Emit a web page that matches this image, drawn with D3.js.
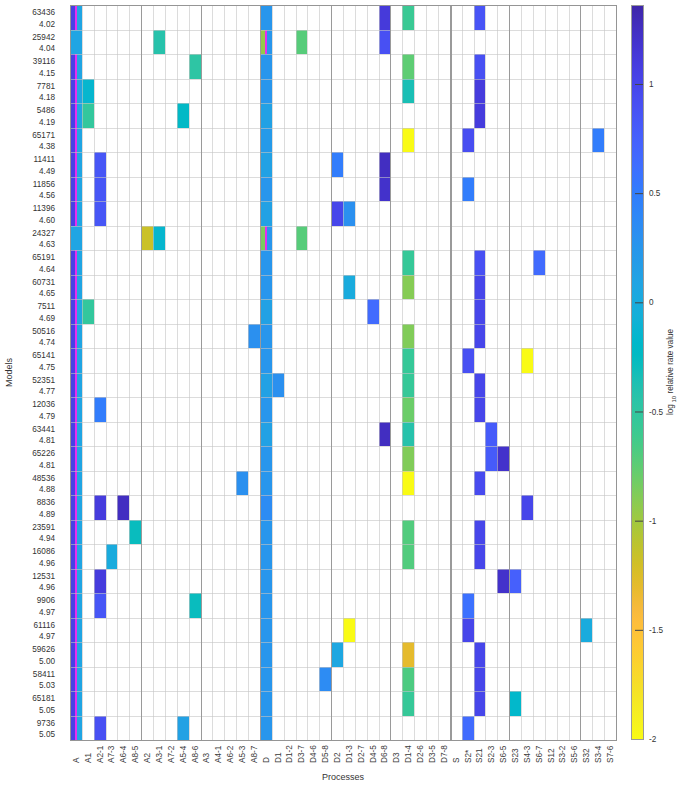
<!DOCTYPE html>
<html><head><meta charset="utf-8">
<script src="https://cdn.jsdelivr.net/npm/d3@7"></script>
<style>body{margin:0;background:#fff;} svg{display:block;font-family:"Liberation Sans",Arial,Helvetica,sans-serif;}</style>
</head><body><svg id="c" width="683" height="787"></svg>
<script>
// ---------- data ----------
const models = ["63436","25942","39116","7781","5486","65171","11411","11856","11396","24327",
  "65191","60731","7511","50516","65141","52351","12036","63441","65226","48536",
  "8836","23591","16086","12531","9906","61116","59626","58411","65181","9736"];
const scores = ["4.02","4.04","4.15","4.18","4.19","4.38","4.49","4.56","4.60","4.63",
  "4.64","4.65","4.69","4.74","4.75","4.77","4.79","4.81","4.81","4.88",
  "4.89","4.94","4.96","4.96","4.97","4.97","5.00","5.03","5.05","5.05"];
const processes = ["A","A1","A2-1","A7-3","A6-4","A8-5","A2","A3-1","A7-2","A5-4","A8-6",
  "A3","A4-1","A6-2","A5-3","A8-7","D","D1","D1-2","D3-7","D4-6","D5-8","D2","D1-3","D2-7",
  "D4-5","D6-8","D3","D1-4","D2-6","D3-5","D7-8","S","S2*","S21","S2-3","S6-5","S23","S4-3",
  "S6-7","S12","S3-2","S5-6","S32","S3-4","S7-6"];
const groupStarts = ["A2","A3","D","D2","D3","S","S23","S32"];
// [model, process, log10 relative rate]
const cells = [
  ["63436","D",0.25],["63436","D6-8",1.12],["63436","D1-4",-0.58],["63436","S21",0.86],
  ["25942","A",0.08],["25942","A3-1",-0.42],["25942","D3-7",-0.72],["25942","D6-8",0.9],
  ["39116","A8-6",-0.47],["39116","D",0.25],["39116","D1-4",-0.75],["39116","S21",0.9],
  ["7781","A1",-0.15],["7781","D",0.25],["7781","D1-4",-0.35],["7781","S21",1.1],
  ["5486","A1",-0.52],["5486","A5-4",-0.22],["5486","D",0.12],["5486","S21",1.1],
  ["65171","D",0.2],["65171","D1-4",-2],["65171","S2*",0.92],["65171","S3-4",0.5],
  ["11411","A2-1",0.85],["11411","D",0.12],["11411","D2",0.5],["11411","D6-8",1.25],
  ["11856","A2-1",0.85],["11856","D",0.25],["11856","D6-8",1.2],["11856","S2*",0.5],
  ["11396","A2-1",0.85],["11396","D",0.12],["11396","D2",1.0],["11396","D1-3",0.3],
  ["24327","A",0.08],["24327","A2",-1.17],["24327","A3-1",-0.15],["24327","D3-7",-0.72],
  ["65191","D",0.25],["65191","D1-4",-0.55],["65191","S21",0.9],["65191","S6-7",0.65],
  ["60731","D",0.25],["60731","D1-3",0.0],["60731","D1-4",-0.9],["60731","S21",1.0],
  ["7511","A1",-0.52],["7511","D",0.12],["7511","D4-5",0.65],["7511","S21",1.0],
  ["50516","A8-7",0.3],["50516","D",0.25],["50516","D1-4",-0.88],["50516","S21",1.0],
  ["65141","D",0.25],["65141","D1-4",-0.55],["65141","S2*",0.9],["65141","S4-3",-2],
  ["52351","D",0.12],["52351","D1",0.3],["52351","D1-4",-0.55],["52351","S21",1.0],
  ["12036","A2-1",0.5],["12036","D",0.25],["12036","D1-4",-0.8],["12036","S21",1.0],
  ["63441","D",0.12],["63441","D6-8",1.25],["63441","D1-4",-0.42],["63441","S2-3",0.8],
  ["65226","D",0.25],["65226","D1-4",-0.88],["65226","S2-3",0.8],["65226","S6-5",1.2],
  ["48536","A5-3",0.3],["48536","D",0.25],["48536","D1-4",-2],["48536","S21",0.95],
  ["8836","A2-1",1.1],["8836","A6-4",1.25],["8836","D",0.35],["8836","S4-3",1.0],
  ["23591","A8-5",-0.28],["23591","D",0.25],["23591","D1-4",-0.7],["23591","S21",1.0],
  ["16086","A7-3",0.0],["16086","D",0.25],["16086","D1-4",-0.7],["16086","S21",1.0],
  ["12531","A2-1",1.1],["12531","D",0.25],["12531","S6-5",1.2],["12531","S23",0.75],
  ["9906","A2-1",0.85],["9906","A8-6",-0.28],["9906","D",0.25],["9906","S2*",0.6],
  ["61116","D",0.25],["61116","D1-3",-2],["61116","S2*",1.0],["61116","S32",0.0],
  ["59626","D",0.25],["59626","D2",0.05],["59626","D1-4",-1.3],["59626","S21",1.0],
  ["58411","D",0.25],["58411","D5-8",0.35],["58411","D1-4",-0.68],["58411","S21",1.0],
  ["65181","D",0.25],["65181","D1-4",-0.55],["65181","S21",1.0],["65181","S23",-0.18],
  ["9736","A2-1",0.9],["9736","A5-4",0.12],["9736","D",0.25],["9736","S2*",0.65]
];
// split cells with marker line: [model, process, left value, right value]
const splitCells = [
  ["63436","A",1.04,0.08],["25942","D",-0.95,0.25],["39116","A",1.04,0.08],["7781","A",1.04,0.08],
  ["5486","A",1.04,0.08],["65171","A",1.04,0.08],["11411","A",1.04,0.08],["11856","A",1.04,0.08],
  ["11396","A",1.04,0.08],["24327","D",-0.85,0.25],["65191","A",1.04,0.08],["60731","A",1.04,0.08],
  ["7511","A",1.04,0.08],["50516","A",1.04,0.08],["65141","A",1.04,0.08],["52351","A",1.04,0.08],
  ["12036","A",1.04,0.08],["63441","A",1.04,0.08],["65226","A",1.04,0.08],["48536","A",1.04,0.08],
  ["8836","A",1.04,0.08],["23591","A",1.04,0.08],["16086","A",1.04,0.08],["12531","A",1.04,0.08],
  ["9906","A",1.04,0.08],["61116","A",1.04,0.08],["59626","A",1.04,0.08],["58411","A",1.04,0.08],
  ["65181","A",1.04,0.08],["9736","A",1.04,0.08]
];
const colorTicks = [-2,-1.5,-1,-0.5,0,0.5,1];
const colorMin = -2, colorMax = 1.3617;

// parula colormap (64)
const parula = [[0.2422,0.1504,0.6603],[0.2504,0.1650,0.7076],[0.2578,0.1818,0.7511],[0.2647,0.1978,0.7952],
[0.2706,0.2147,0.8364],[0.2751,0.2342,0.8710],[0.2783,0.2559,0.8991],[0.2803,0.2782,0.9221],[0.2813,0.3006,0.9414],
[0.2810,0.3228,0.9579],[0.2795,0.3447,0.9717],[0.2760,0.3667,0.9829],[0.2699,0.3892,0.9906],[0.2602,0.4123,0.9952],
[0.2440,0.4358,0.9988],[0.2206,0.4603,0.9973],[0.1963,0.4847,0.9892],[0.1834,0.5074,0.9798],[0.1786,0.5289,0.9682],
[0.1764,0.5499,0.9520],[0.1687,0.5703,0.9359],[0.1540,0.5902,0.9218],[0.1460,0.6091,0.9079],[0.1380,0.6276,0.8973],
[0.1248,0.6459,0.8883],[0.1113,0.6635,0.8763],[0.0952,0.6798,0.8598],[0.0689,0.6948,0.8394],[0.0297,0.7082,0.8163],
[0.0036,0.7203,0.7917],[0.0067,0.7312,0.7660],[0.0433,0.7411,0.7394],[0.0964,0.7500,0.7120],[0.1408,0.7584,0.6842],
[0.1717,0.7670,0.6554],[0.1938,0.7758,0.6251],[0.2161,0.7843,0.5923],[0.2470,0.7918,0.5567],[0.2906,0.7973,0.5188],
[0.3406,0.8008,0.4789],[0.3909,0.8029,0.4354],[0.4456,0.8024,0.3909],[0.5044,0.7993,0.3480],[0.5616,0.7942,0.3045],
[0.6174,0.7876,0.2612],[0.6720,0.7793,0.2227],[0.7242,0.7698,0.1910],[0.7738,0.7598,0.1646],[0.8203,0.7498,0.1535],
[0.8634,0.7406,0.1596],[0.9035,0.7330,0.1774],[0.9393,0.7288,0.2100],[0.9728,0.7298,0.2394],[0.9956,0.7434,0.2371],
[0.9970,0.7659,0.2199],[0.9952,0.7893,0.2028],[0.9892,0.8136,0.1885],[0.9786,0.8386,0.1766],[0.9676,0.8639,0.1643],
[0.9610,0.8890,0.1537],[0.9597,0.9135,0.1423],[0.9628,0.9373,0.1265],[0.9691,0.9606,0.1064],[0.9769,0.9839,0.0805]]
  .map(c => d3.rgb(c[0]*255, c[1]*255, c[2]*255).formatHex());

// ---------- layout ----------
const L = 70, R = 616, T = 5, B = 740;
const svg = d3.select("#c");
const x = d3.scaleBand().domain(processes).range([L, R]);
const y = d3.scaleBand().domain(models).range([T, B]);
const interp = d3.piecewise(d3.interpolateRgb, parula);
const color = d3.scaleSequential(interp).domain([colorMax, colorMin]);
const bw = x.bandwidth(), bh = y.bandwidth();
const txt = "#333";
const rx0 = p => Math.round(x(p)), rx1 = p => Math.round(x(p) + bw);
const ry0 = m => Math.round(y(m)), ry1 = m => Math.round(y(m) + bh);

// cells
svg.append("g").attr("shape-rendering", "crispEdges")
  .selectAll("rect").data(cells).join("rect")
  .attr("x", d => rx0(d[1])).attr("y", d => ry0(d[0]))
  .attr("width", d => rx1(d[1]) - rx0(d[1])).attr("height", d => ry1(d[0]) - ry0(d[0]))
  .attr("fill", d => color(d[2]));

// split cells
const sg = svg.append("g").attr("shape-rendering", "crispEdges")
  .selectAll("g").data(splitCells).join("g");
sg.append("rect").attr("x", d => rx0(d[1])).attr("y", d => ry0(d[0]))
  .attr("width", d => rx1(d[1]) - rx0(d[1])).attr("height", d => ry1(d[0]) - ry0(d[0]))
  .attr("fill", d => color(d[3]));
sg.append("rect").attr("x", d => rx0(d[1])).attr("y", d => ry0(d[0]))
  .attr("width", 5).attr("height", d => ry1(d[0]) - ry0(d[0])).attr("fill", d => color(d[2]));
sg.append("rect").attr("x", d => rx0(d[1]) + 5).attr("y", d => ry0(d[0]))
  .attr("width", 2).attr("height", d => ry1(d[0]) - ry0(d[0])).attr("fill", "#e62ef0");

// grid
const grid = svg.append("g");
grid.selectAll("line.v").data(processes.slice(1)).join("line")
  .attr("x1", d => rx0(d) + 0.5).attr("x2", d => rx0(d) + 0.5)
  .attr("y1", T).attr("y2", B).attr("stroke", "#c4c4c4").attr("stroke-opacity", 0.6);
grid.selectAll("line.h").data(models.slice(1)).join("line")
  .attr("y1", d => ry0(d) + 0.5).attr("y2", d => ry0(d) + 0.5)
  .attr("x1", L).attr("x2", R).attr("stroke", "#c4c4c4").attr("stroke-opacity", 0.6);
grid.selectAll("line.g").data(groupStarts).join("line")
  .attr("x1", d => rx0(d) + (d === "S" ? 1 : 0.5)).attr("x2", d => rx0(d) + (d === "S" ? 1 : 0.5))
  .attr("y1", T).attr("y2", B).attr("stroke", "#9a9a9a").attr("stroke-width", d => d === "S" ? 2 : 1);
svg.append("rect").attr("x", L + 0.5).attr("y", T + 0.5).attr("width", R - L).attr("height", B - T)
  .attr("fill", "none").attr("stroke", "#959595");

// x axis labels
const xa = svg.append("g").attr("transform", `translate(0,${B})`)
  .call(d3.axisBottom(x).tickSize(0));
xa.select(".domain").remove();
xa.selectAll("text").attr("transform", "rotate(-90)").attr("x", -23).attr("y", 0)
  .attr("dy", "0.35em").style("text-anchor", "start")
  .attr("fill", "#3a3a3a").attr("font-size", 8.2).attr("font-family", null);

// row labels
const rl = svg.append("g").selectAll("g").data(models).join("g")
  .attr("transform", d => `translate(55,${y(d) + bh/2})`);
rl.append("text").attr("y", -2.2).attr("text-anchor", "end").attr("font-size", 8.2).attr("fill", txt).text(d => d);
rl.append("text").attr("y", 9.3).attr("text-anchor", "end").attr("font-size", 8.2).attr("fill", txt)
  .text((d, i) => scores[i]);

// axis titles
svg.append("text").attr("transform", `translate(9,${(T+B)/2}) rotate(-90)`).attr("dy", "0.35em")
  .attr("text-anchor", "middle").attr("font-size", 9).attr("fill", txt).text("Models");
svg.append("text").attr("x", (L+R)/2).attr("y", 780).attr("text-anchor", "middle")
  .attr("font-size", 9).attr("fill", txt).text("Processes");

// colorbar
const CX = 631, CW = 12;
const cy = d3.scaleLinear().domain([colorMin, colorMax]).range([739, T]);
const defs = svg.append("defs");
const grad = defs.append("linearGradient").attr("id", "cb").attr("x1", 0).attr("y1", 0).attr("x2", 0).attr("y2", 1);
grad.selectAll("stop").data(parula).join("stop")
  .attr("offset", (d, i) => i / (parula.length - 1)).attr("stop-color", d => d);
svg.append("rect").attr("x", CX).attr("y", cy(colorMax)).attr("width", CW)
  .attr("height", cy(colorMin) - cy(colorMax)).attr("fill", "url(#cb)");
const ca = svg.append("g").attr("transform", `translate(${CX + CW},0)`)
  .call(d3.axisRight(cy).tickValues(colorTicks).tickSize(-8).tickPadding(6).tickFormat(d => String(d)));
ca.select(".domain").remove();
ca.selectAll("line").attr("stroke", "#444");
ca.selectAll("text").attr("fill", txt).attr("font-size", 8.2).attr("font-family", null);
svg.append("rect").attr("x", CX + 0.5).attr("y", cy(colorMax) + 0.5).attr("width", CW)
  .attr("height", cy(colorMin) - cy(colorMax)).attr("fill", "none").attr("stroke", "#9a9a9a");
const cl = svg.append("text").attr("transform", `translate(673,${(T+739)/2}) rotate(-90)`)
  .attr("text-anchor", "middle").attr("font-size", 8.2).attr("fill", txt);
cl.append("tspan").text("log");
cl.append("tspan").attr("dy", 2.5).attr("font-size", 6).text(" 10");
cl.append("tspan").attr("dy", -2.5).text(" relative rate value");
</script></body></html>
